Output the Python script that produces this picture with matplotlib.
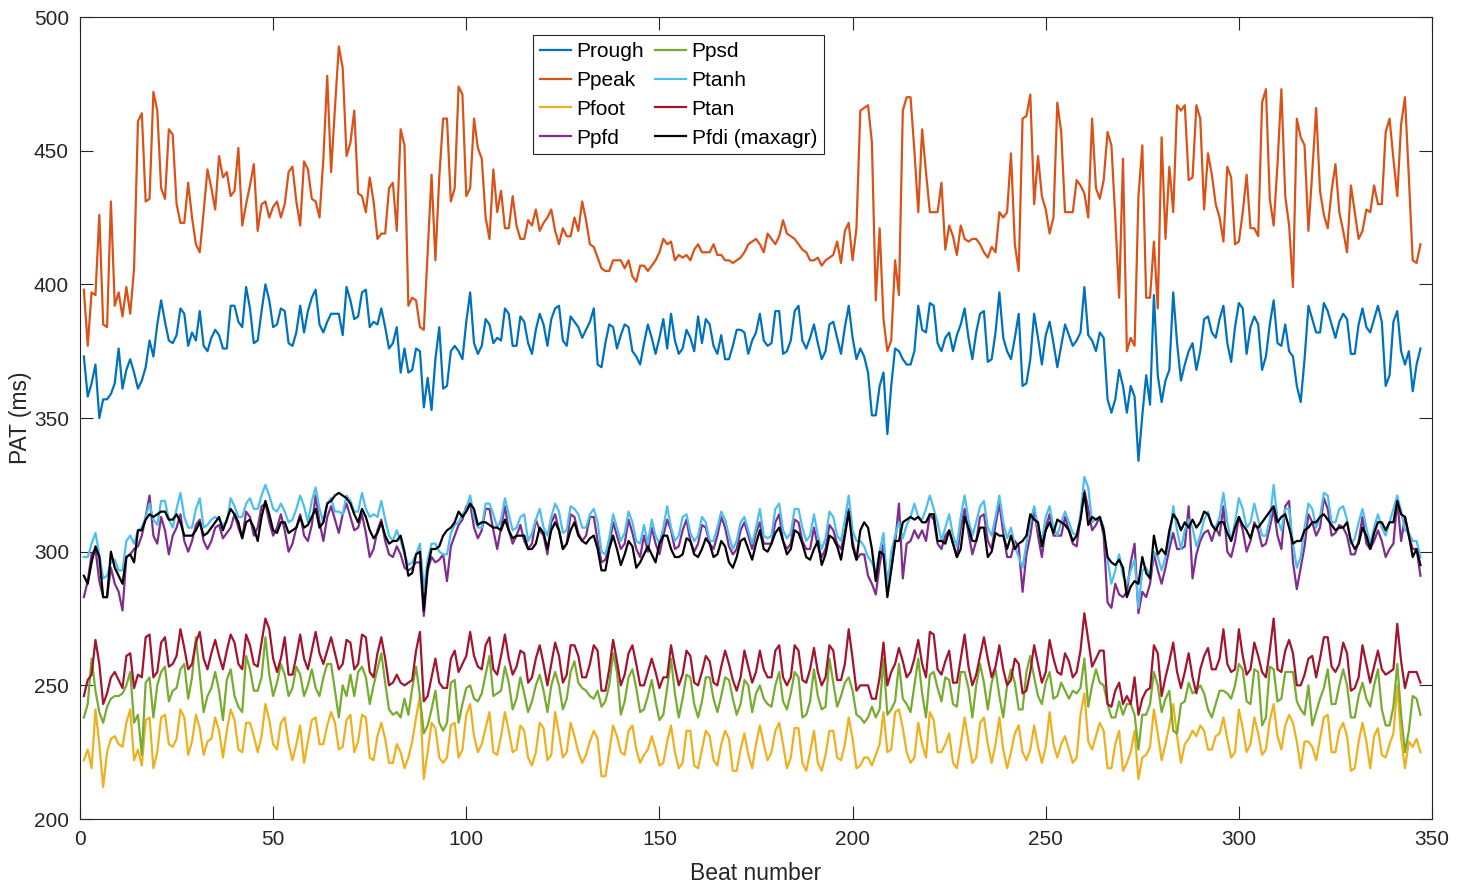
import numpy as np
import matplotlib
matplotlib.use("Agg")
import matplotlib.pyplot as plt

plt.rcParams['font.family'] = ['Liberation Sans', 'DejaVu Sans']

# PAT values (ms) per beat
prough = [373, 358, 363, 370, 350, 357, 357, 359, 363, 376,
          361, 368, 372, 367, 361, 364, 369, 379, 373, 385,
          394, 386, 379, 378, 381, 391, 389, 377, 382, 379,
          390, 377, 375, 380, 383, 381, 376, 376, 392, 392,
          386, 384, 399, 391, 378, 379, 390, 400, 394, 384,
          385, 391, 390, 378, 377, 382, 392, 382, 390, 395,
          398, 385, 382, 386, 389, 389, 389, 381, 399, 394,
          387, 388, 397, 398, 384, 386, 385, 391, 384, 376,
          378, 384, 367, 376, 367, 368, 376, 375, 354, 365,
          353, 372, 384, 361, 362, 375, 377, 375, 372, 386,
          397, 378, 374, 377, 387, 385, 378, 380, 379, 391,
          389, 377, 377, 388, 386, 378, 374, 383, 389, 385,
          377, 387, 391, 392, 379, 377, 388, 386, 384, 380,
          383, 386, 391, 370, 369, 378, 385, 384, 376, 381,
          385, 384, 375, 373, 370, 378, 385, 380, 374, 380,
          387, 376, 389, 379, 374, 376, 383, 380, 375, 388,
          378, 387, 385, 377, 374, 381, 372, 372, 377, 383,
          383, 382, 374, 379, 382, 389, 379, 377, 378, 390,
          390, 374, 375, 379, 390, 392, 379, 376, 380, 385,
          378, 372, 375, 385, 386, 380, 374, 384, 392, 380,
          372, 376, 373, 367, 351, 351, 362, 367, 344, 362,
          376, 375, 372, 370, 370, 375, 392, 383, 382, 393,
          392, 378, 375, 380, 382, 375, 381, 385, 391, 380,
          372, 382, 389, 390, 371, 372, 382, 397, 380, 375,
          372, 380, 389, 362, 363, 372, 389, 380, 370, 381,
          386, 378, 369, 377, 385, 381, 377, 379, 382, 399,
          381, 379, 375, 382, 380, 357, 352, 357, 368, 362,
          352, 362, 358, 334, 351, 366, 355, 396, 366, 356,
          364, 368, 397, 378, 364, 370, 375, 378, 368, 375,
          387, 388, 382, 380, 387, 392, 378, 371, 384, 393,
          391, 374, 384, 388, 385, 368, 373, 385, 394, 378,
          377, 385, 375, 373, 362, 356, 372, 392, 387, 382,
          382, 393, 390, 385, 380, 386, 389, 387, 374, 374,
          385, 391, 384, 382, 387, 392, 386, 362, 366, 386,
          390, 375, 370, 375, 360, 370, 376]

ppeak = [398, 377, 397, 396, 426, 385, 384, 431, 392, 397,
         388, 399, 389, 406, 461, 464, 431, 432, 472, 465,
         436, 432, 458, 456, 430, 423, 423, 438, 425, 415,
         412, 427, 443, 436, 428, 448, 440, 442, 433, 435,
         451, 422, 430, 437, 445, 420, 430, 431, 425, 429,
         431, 425, 430, 442, 444, 431, 422, 446, 443, 432,
         431, 425, 447, 478, 442, 466, 489, 481, 448, 453,
         465, 434, 433, 427, 440, 431, 417, 419, 419, 436,
         438, 420, 458, 452, 392, 395, 394, 384, 383, 412,
         441, 409, 440, 462, 462, 431, 436, 474, 471, 433,
         436, 462, 451, 447, 425, 417, 443, 427, 435, 421,
         421, 433, 422, 417, 417, 424, 422, 428, 420, 423,
         425, 428, 420, 415, 421, 418, 418, 425, 420, 431,
         424, 415, 414, 410, 406, 405, 405, 409, 409, 409,
         406, 409, 403, 401, 407, 407, 405, 407, 409, 412,
         417, 415, 416, 409, 411, 410, 411, 409, 413, 415,
         412, 412, 412, 415, 411, 411, 409, 409, 408, 409,
         410, 412, 415, 416, 417, 415, 412, 419, 417, 415,
         418, 424, 419, 418, 417, 415, 413, 412, 409, 409,
         410, 407, 409, 410, 411, 416, 408, 420, 423, 409,
         421, 465, 466, 467, 453, 394, 421, 387, 375, 379,
         409, 396, 465, 470, 470, 450, 427, 458, 442, 427,
         427, 427, 438, 413, 422, 418, 411, 422, 417, 416,
         417, 417, 415, 412, 410, 414, 412, 427, 425, 427,
         449, 415, 405, 462, 463, 471, 430, 448, 433, 428,
         419, 425, 468, 457, 427, 427, 427, 439, 437, 434,
         425, 462, 436, 432, 439, 457, 452, 425, 395, 447,
         375, 380, 377, 433, 452, 395, 395, 416, 391, 455,
         417, 444, 427, 467, 465, 467, 439, 440, 467, 462,
         428, 449, 441, 430, 425, 416, 444, 440, 415, 416,
         427, 441, 421, 421, 418, 468, 473, 432, 422, 445,
         473, 433, 422, 399, 462, 455, 452, 420, 442, 466,
         435, 426, 421, 435, 445, 427, 420, 412, 437, 427,
         417, 420, 428, 427, 437, 430, 430, 457, 462, 447,
         433, 460, 470, 440, 409, 408, 415]

pfoot = [222, 226, 219, 241, 228, 212, 225, 230, 231, 228,
         227, 236, 241, 222, 226, 220, 237, 238, 219, 225,
         238, 239, 228, 227, 230, 241, 238, 224, 229, 239,
         234, 224, 229, 230, 238, 233, 223, 233, 241, 237,
         226, 225, 236, 236, 231, 225, 231, 243, 237, 228,
         226, 236, 238, 228, 222, 228, 235, 221, 229, 237,
         238, 228, 228, 235, 240, 236, 226, 227, 237, 239,
         225, 229, 239, 238, 223, 222, 231, 236, 230, 221,
         221, 228, 225, 219, 223, 229, 238, 246, 215, 225,
         236, 234, 223, 221, 223, 235, 236, 223, 226, 239,
         243, 231, 225, 228, 234, 240, 225, 224, 231, 240,
         233, 225, 226, 235, 233, 223, 220, 225, 236, 234,
         222, 224, 240, 232, 223, 225, 236, 231, 225, 221,
         224, 229, 233, 230, 216, 216, 225, 235, 231, 225,
         224, 233, 235, 226, 221, 224, 226, 231, 226, 220,
         221, 229, 235, 225, 219, 221, 233, 233, 220, 219,
         226, 233, 231, 222, 220, 228, 233, 230, 218, 218,
         226, 232, 224, 219, 228, 235, 228, 222, 225, 233,
         236, 228, 219, 223, 234, 234, 221, 218, 225, 233,
         221, 218, 224, 233, 233, 223, 222, 228, 238, 230,
         219, 220, 223, 223, 220, 224, 228, 240, 225, 226,
         240, 241, 234, 225, 221, 223, 236, 228, 223, 240,
         237, 225, 225, 228, 232, 221, 219, 228, 238, 229,
         221, 223, 236, 238, 228, 221, 228, 238, 226, 219,
         225, 232, 235, 225, 222, 226, 235, 227, 221, 227,
         240, 228, 223, 228, 231, 226, 221, 223, 239, 247,
         229, 226, 231, 236, 233, 219, 219, 228, 233, 218,
         221, 225, 233, 215, 223, 224, 227, 241, 232, 222,
         228, 235, 243, 231, 221, 228, 230, 233, 231, 235,
         233, 226, 226, 231, 232, 238, 230, 223, 225, 241,
         234, 225, 228, 238, 232, 224, 226, 237, 243, 231,
         226, 235, 239, 236, 229, 219, 229, 229, 227, 222,
         230, 238, 239, 225, 225, 233, 236, 231, 218, 219,
         229, 236, 229, 219, 231, 234, 224, 223, 228, 232,
         250, 230, 219, 229, 227, 230, 225]

ppfd = [283, 289, 299, 301, 289, 283, 283, 294, 288, 285,
        278, 298, 299, 301, 302, 306, 313, 321, 306, 303,
        313, 308, 299, 306, 309, 314, 304, 300, 304, 310,
        312, 304, 301, 304, 309, 310, 305, 307, 309, 314,
        309, 305, 315, 313, 306, 309, 317, 318, 311, 306,
        309, 314, 308, 300, 303, 309, 314, 306, 304, 310,
        321, 311, 304, 313, 317, 312, 307, 314, 318, 313,
        308, 309, 314, 307, 298, 301, 308, 312, 304, 299,
        298, 302, 299, 294, 293, 294, 296, 296, 276, 293,
        298, 296, 297, 299, 289, 302, 306, 310, 312, 317,
        318, 309, 305, 308, 316, 316, 308, 301, 309, 317,
        308, 303, 306, 310, 304, 301, 303, 312, 308, 306,
        299, 311, 314, 308, 301, 303, 314, 313, 307, 304,
        306, 313, 313, 304, 296, 297, 302, 311, 306, 301,
        303, 312, 307, 301, 298, 306, 300, 309, 303, 299,
        306, 312, 308, 301, 302, 308, 312, 304, 300, 303,
        310, 309, 303, 301, 306, 313, 309, 302, 299, 301,
        308, 311, 306, 301, 307, 311, 303, 303, 303, 311,
        314, 304, 301, 303, 312, 311, 304, 301, 301, 309,
        302, 298, 301, 310, 308, 303, 301, 307, 316, 304,
        297, 299, 299, 291, 288, 284, 295, 303, 288, 294,
        303, 318, 290, 303, 304, 308, 305, 308, 304, 314,
        312, 303, 301, 306, 308, 303, 298, 309, 316, 307,
        299, 304, 313, 314, 304, 301, 310, 318, 307, 298,
        298, 304, 302, 285, 299, 306, 316, 306, 298, 309,
        314, 306, 306, 306, 313, 308, 303, 302, 313, 323,
        316, 308, 310, 313, 306, 281, 279, 288, 284, 283,
        285, 296, 303, 277, 285, 283, 288, 299, 293, 288,
        294, 301, 307, 301, 301, 302, 317, 290, 299, 304,
        307, 308, 304, 309, 306, 317, 300, 298, 304, 313,
        308, 300, 304, 311, 308, 302, 303, 309, 316, 306,
        301, 317, 319, 296, 286, 294, 302, 314, 311, 306,
        309, 320, 316, 306, 307, 310, 309, 306, 299, 299,
        304, 313, 303, 301, 304, 308, 304, 298, 301, 303,
        319, 304, 313, 306, 301, 301, 291]

ppsd = [238, 243, 260, 248, 240, 236, 242, 245, 246, 246,
        247, 250, 255, 236, 239, 224, 251, 253, 238, 250,
        255, 257, 244, 248, 249, 256, 258, 245, 253, 268,
        254, 240, 246, 249, 255, 248, 237, 252, 256, 246,
        242, 240, 261, 256, 248, 248, 253, 268, 254, 246,
        251, 258, 254, 246, 249, 257, 254, 246, 250, 256,
        249, 246, 253, 258, 258, 248, 238, 250, 246, 254,
        246, 255, 257, 253, 243, 250, 256, 262, 251, 241,
        239, 240, 238, 245, 239, 249, 257, 246, 232, 235,
        241, 248, 236, 233, 236, 251, 252, 236, 243, 249,
        250, 245, 244, 247, 254, 261, 246, 247, 248, 257,
        251, 241, 245, 253, 247, 240, 244, 250, 254, 248,
        240, 250, 255, 250, 241, 245, 255, 259, 251, 249,
        248, 246, 245, 248, 242, 244, 250, 262, 255, 239,
        244, 253, 256, 249, 240, 241, 246, 252, 244, 237,
        239, 249, 260, 247, 238, 245, 254, 253, 243, 238,
        244, 253, 253, 245, 240, 246, 253, 252, 245, 239,
        243, 252, 250, 240, 247, 250, 245, 243, 242, 250,
        255, 244, 241, 247, 255, 253, 238, 239, 244, 256,
        246, 241, 242, 260, 251, 242, 246, 251, 253, 248,
        239, 238, 236, 238, 242, 238, 241, 260, 239, 241,
        244, 258, 245, 243, 240, 250, 260, 247, 238, 254,
        255, 249, 244, 253, 252, 243, 242, 255, 255, 249,
        238, 250, 258, 251, 241, 251, 256, 246, 238, 250,
        256, 251, 241, 241, 255, 261, 253, 246, 243, 251,
        255, 245, 246, 251, 248, 245, 248, 247, 249, 260,
        242, 250, 256, 251, 250, 243, 238, 238, 244, 239,
        243, 243, 239, 226, 239, 239, 243, 255, 250, 240,
        245, 248, 233, 232, 243, 244, 251, 247, 248, 250,
        247, 241, 238, 243, 248, 248, 247, 245, 250, 258,
        256, 244, 243, 256, 255, 235, 238, 257, 256, 244,
        245, 255, 255, 255, 244, 241, 239, 250, 235, 240,
        245, 249, 256, 243, 243, 250, 256, 250, 238, 238,
        246, 251, 245, 242, 250, 256, 241, 235, 235, 242,
        258, 239, 225, 233, 246, 245, 239]

ptanh = [298, 298, 303, 307, 299, 290, 291, 296, 297, 293,
         293, 304, 306, 303, 308, 309, 313, 318, 312, 310,
         319, 319, 312, 309, 316, 322, 313, 309, 309, 316,
         320, 309, 310, 312, 313, 312, 310, 311, 320, 317,
         313, 313, 318, 320, 316, 316, 321, 325, 321, 316,
         315, 318, 315, 311, 312, 316, 321, 317, 311, 319,
         324, 316, 311, 318, 320, 315, 315, 314, 321, 319,
         315, 315, 322, 316, 313, 314, 313, 319, 312, 306,
         304, 308, 304, 299, 295, 296, 299, 303, 286, 297,
         303, 303, 300, 299, 299, 307, 310, 311, 314, 316,
         321, 313, 309, 309, 318, 318, 314, 309, 312, 320,
         314, 308, 309, 313, 314, 304, 307, 312, 316, 309,
         306, 313, 318, 315, 307, 308, 317, 316, 314, 309,
         309, 314, 316, 311, 300, 299, 305, 314, 309, 304,
         307, 315, 311, 304, 303, 310, 303, 312, 306, 303,
         309, 317, 309, 304, 306, 313, 314, 307, 304, 306,
         313, 311, 304, 304, 309, 315, 312, 306, 301, 304,
         311, 313, 308, 303, 309, 316, 306, 305, 306, 316,
         318, 308, 305, 307, 316, 316, 309, 304, 306, 314,
         306, 301, 305, 315, 313, 306, 304, 312, 321, 308,
         304, 304, 302, 298, 296, 292, 300, 307, 286, 300,
         306, 311, 305, 310, 313, 318, 313, 312, 316, 321,
         316, 311, 304, 309, 314, 306, 302, 313, 321, 312,
         306, 311, 317, 319, 309, 306, 313, 321, 311, 305,
         309, 302, 298, 294, 303, 311, 317, 309, 304, 313,
         317, 309, 306, 311, 315, 311, 307, 306, 314, 328,
         324, 311, 312, 313, 309, 297, 288, 293, 299, 291,
         288, 293, 297, 279, 293, 294, 291, 300, 298, 293,
         298, 304, 317, 308, 301, 308, 312, 309, 302, 306,
         312, 315, 310, 309, 313, 322, 311, 304, 311, 320,
         316, 309, 311, 318, 312, 306, 306, 312, 325, 312,
         308, 316, 316, 303, 294, 298, 309, 318, 316, 309,
         313, 322, 321, 311, 311, 316, 317, 312, 303, 305,
         311, 316, 309, 303, 309, 314, 309, 306, 311, 316,
         321, 315, 308, 307, 304, 304, 298]

ptan = [246, 252, 254, 267, 258, 243, 247, 253, 255, 252,
        249, 261, 262, 249, 254, 253, 268, 269, 253, 255,
        266, 268, 257, 258, 261, 271, 264, 256, 258, 266,
        270, 260, 256, 262, 267, 261, 256, 263, 269, 266,
        258, 256, 269, 265, 258, 257, 266, 275, 271, 260,
        255, 260, 268, 254, 254, 261, 269, 260, 256, 263,
        270, 262, 258, 263, 268, 262, 256, 258, 267, 266,
        256, 258, 269, 268, 255, 253, 262, 268, 260, 250,
        251, 254, 251, 250, 251, 252, 263, 270, 244, 246,
        253, 260, 251, 249, 249, 260, 263, 255, 258, 261,
        270, 261, 257, 256, 265, 268, 256, 254, 261, 269,
        260, 254, 257, 263, 262, 251, 253, 260, 265, 258,
        250, 258, 266, 261, 251, 254, 265, 265, 261, 253,
        253, 258, 265, 263, 248, 248, 256, 267, 259, 250,
        254, 262, 265, 258, 250, 250, 255, 260, 255, 249,
        253, 253, 265, 257, 250, 254, 263, 261, 251, 250,
        255, 261, 259, 251, 250, 257, 263, 258, 252, 248,
        253, 263, 257, 251, 255, 263, 256, 253, 253, 263,
        265, 253, 250, 253, 265, 263, 252, 251, 256, 264,
        255, 250, 253, 265, 263, 252, 252, 258, 271, 260,
        248, 250, 250, 250, 245, 245, 253, 266, 250, 255,
        258, 264, 259, 253, 255, 260, 267, 258, 253, 270,
        269, 256, 254, 259, 263, 251, 251, 260, 269, 257,
        250, 254, 261, 268, 260, 253, 257, 265, 256, 250,
        252, 260, 258, 247, 248, 255, 265, 258, 251, 255,
        267, 260, 255, 254, 262, 259, 253, 255, 263, 277,
        267, 257, 260, 263, 263, 243, 242, 248, 251, 243,
        246, 243, 253, 239, 245, 248, 249, 265, 262, 246,
        253, 259, 266, 255, 249, 255, 262, 253, 247, 256,
        261, 264, 256, 256, 260, 271, 258, 255, 256, 271,
        261, 254, 256, 266, 261, 255, 253, 263, 275, 256,
        255, 263, 267, 262, 250, 250, 254, 260, 261, 253,
        260, 268, 268, 257, 255, 258, 266, 262, 248, 249,
        253, 265, 258, 251, 257, 263, 256, 254, 255, 256,
        273, 259, 249, 255, 255, 255, 251]

pfdi = [291, 288, 296, 302, 298, 283, 283, 300, 294, 291,
        288, 298, 299, 296, 308, 308, 312, 314, 313, 314,
        315, 315, 312, 312, 314, 311, 306, 306, 306, 308,
        311, 306, 307, 309, 311, 313, 308, 312, 316, 314,
        311, 305, 311, 312, 309, 304, 313, 319, 314, 308,
        307, 311, 311, 307, 308, 309, 313, 309, 310, 313,
        316, 309, 311, 318, 319, 321, 322, 321, 320, 318,
        314, 311, 316, 313, 308, 305, 307, 311, 306, 303,
        304, 304, 306, 300, 291, 292, 299, 300, 278, 294,
        301, 301, 302, 306, 308, 309, 311, 315, 313, 315,
        318, 316, 310, 311, 311, 310, 309, 309, 308, 312,
        308, 305, 306, 306, 306, 301, 301, 303, 309, 307,
        301, 308, 311, 308, 301, 303, 308, 311, 306, 304,
        303, 305, 306, 301, 293, 293, 301, 306, 301, 295,
        299, 304, 302, 294, 296, 299, 302, 299, 296, 303,
        306, 306, 301, 298, 298, 299, 305, 304, 299, 298,
        301, 305, 303, 298, 299, 304, 302, 296, 294, 298,
        304, 305, 301, 297, 303, 308, 301, 300, 303, 307,
        309, 304, 299, 301, 308, 307, 303, 298, 297, 301,
        304, 295, 299, 306, 305, 302, 297, 306, 315, 302,
        297, 308, 311, 309, 301, 289, 300, 299, 283, 293,
        304, 304, 311, 312, 313, 312, 313, 311, 311, 314,
        314, 304, 304, 303, 308, 303, 298, 301, 313, 309,
        304, 304, 309, 309, 298, 300, 307, 306, 306, 301,
        306, 301, 303, 304, 306, 314, 312, 311, 302, 308,
        311, 307, 312, 311, 310, 308, 304, 306, 312, 322,
        310, 313, 312, 313, 308, 298, 296, 295, 297, 294,
        283, 287, 289, 288, 298, 292, 290, 306, 299, 301,
        299, 308, 314, 312, 308, 311, 309, 312, 309, 311,
        315, 314, 310, 308, 311, 311, 307, 304, 309, 313,
        310, 308, 305, 310, 309, 311, 313, 315, 317, 311,
        313, 314, 309, 303, 304, 304, 308, 309, 311, 311,
        313, 314, 312, 310, 308, 309, 309, 311, 304, 301,
        303, 309, 306, 301, 307, 311, 311, 308, 311, 311,
        319, 314, 313, 306, 298, 301, 295]

series_names = ['Prough', 'Ppeak', 'Pfoot', 'Ppfd', 'Ppsd', 'Ptanh', 'Ptan', 'Pfdi (maxagr)']
series_colors = ['#0072BD', '#D95319', '#EDB120', '#7E2F8E', '#77AC30', '#4DBEEE', '#A2142F', '#000000']
all_series = [prough, ppeak, pfoot, ppfd, ppsd, ptanh, ptan, pfdi]

beats = np.arange(1, len(prough) + 1)

fig = plt.figure(figsize=(14.68, 8.82), dpi=100)
ax = fig.add_axes([0.0545, 0.0714, 0.921, 0.9093])

for vals, name, col in zip(all_series, series_names, series_colors):
    ax.plot(beats, vals, color=col, lw=1.6, label=name)

ax.set_xlim(0, 350)
ax.set_ylim(200, 500)
ax.set_xticks(np.arange(0, 351, 50))
ax.set_yticks(np.arange(200, 501, 50))

axis_col = '#262626'
for sp in ax.spines.values():
    sp.set_color(axis_col)
    sp.set_linewidth(0.8)
ax.tick_params(direction='in', length=9.5, width=0.8, colors=axis_col,
               labelsize=15, top=True, right=True, pad=8)

ax.set_xlabel('Beat number', fontsize=16.5, color=axis_col, labelpad=9)
ax.set_ylabel('PAT (ms)', fontsize=16.5, color=axis_col, labelpad=1)

leg = ax.legend(ncol=2, loc='upper left', bbox_to_anchor=(0.335, 0.977),
                fontsize=15, frameon=True, fancybox=False, framealpha=1,
                handlelength=1.5, handletextpad=0.25, columnspacing=0.55,
                labelspacing=0.47, borderpad=0.32, borderaxespad=0)
leg.get_frame().set_edgecolor(axis_col)
leg.get_frame().set_linewidth(0.8)

fig.savefig('out.png', dpi=100)
